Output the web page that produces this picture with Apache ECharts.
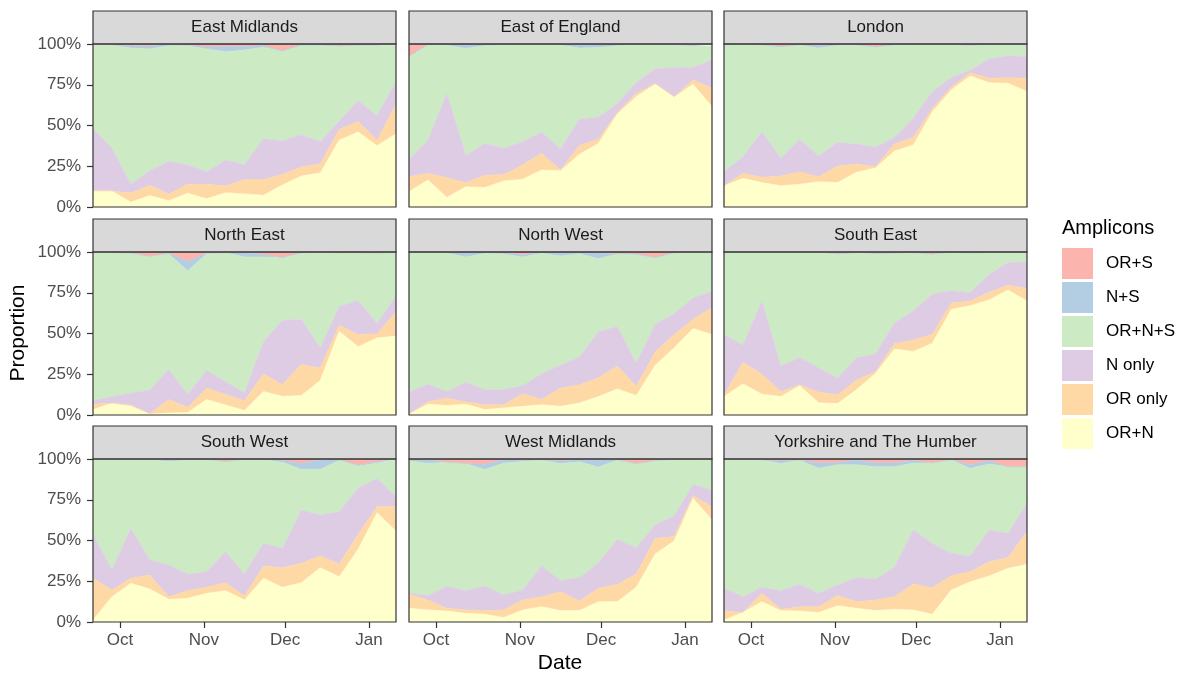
<!DOCTYPE html>
<html>
<head>
<meta charset="utf-8">
<script src="https://cdn.jsdelivr.net/npm/echarts@6/dist/echarts.min.js"></script>
<style>
html,body{margin:0;padding:0;background:#fff;}
#chart{width:1200px;height:686px;}
</style>
</head>
<body>
<div id="chart"></div>
<script>
// Weekly sample dates
const dates = ['2020-09-21','2020-09-28','2020-10-05','2020-10-12','2020-10-19','2020-10-26',
  '2020-11-02','2020-11-09','2020-11-16','2020-11-23','2020-11-30','2020-12-07',
  '2020-12-14','2020-12-21','2020-12-28','2021-01-04','2021-01-11'];

// Amplicon categories, bottom of stack first
const amplicons = ['OR+N','OR only','N only','OR+N+S','N+S','OR+S'];
const legendOrder = ['OR+S','N+S','OR+N+S','N only','OR only','OR+N'];
const colors = ['#FFFFCC','#FED9A6','#DECBE4','#CCEBC5','#B3CDE3','#FBB4AE'];

const regions = ['East Midlands','East of England','London','North East','North West',
  'South East','South West','West Midlands','Yorkshire and The Humber'];

const yTicks = [0, 0.25, 0.5, 0.75, 1];

// Cumulative percentages (top edge of OR+N, OR only, N only, OR+N+S, N+S); OR+S fills to 100%
const eastMidlands = {
  orN:    [9.8,9.8,2.9,7,3.9,8.4,5,8.8,8,7.2,13.5,19,20.9,41,46,37.6,45],
  orOnly: [9.8,9.8,8.6,13.3,8,14,14,13,16.8,16.8,20,24.7,26.4,47.6,52.4,41,63],
  nOnly:  [48,36,14,22.3,28,25.8,21.7,28.8,26,42,40.5,44.4,40,52.8,65.4,56,77],
  orNS:   [99.3,99.3,97.5,97,99,99,97,95.3,96.3,98,95.5,99,99,98.6,99,99,99.2],
  nS:     [99.7,99.6,99,98.8,100,99.4,98.2,98.5,98.5,99,95.7,99.5,100,98.8,99.6,99.6,100]
};
const eastOfEngland = {
  orN:    [9.4,16.6,5.9,12.5,11.9,16,17,22.7,22.3,32.3,39,57,67.7,75.3,67.3,75.3,61.6],
  orOnly: [18.6,20.7,18,15,19.4,20,25.8,33,22.7,37.8,41.5,57.9,69.7,75.7,67.7,78,72.8],
  nOnly:  [29.2,41,69.7,31.5,39,36,40,46,35.6,53.8,55,63.6,76.3,85,85.5,85.7,90.2],
  orNS:   [92,99.4,99.3,97.3,99,99.2,99.4,99.4,99.4,97.5,97.8,99,99.4,99.4,99.3,98.7,98.8],
  nS:     [92.5,99.8,99.8,99.6,100,99.8,99.8,100,100,99.7,99.9,100,100,99.8,99.8,99.6,99.7]
};
const london = {
  orN:    [13,17.6,15,13,14,15.5,15,21.3,24,34.4,38,58.5,71.8,80.4,76.3,75.9,70.8],
  orOnly: [13,20.7,18.2,19,21.5,18.6,25.2,26.4,24.7,38.7,42.7,60.5,73.4,82.4,79,79.3,79],
  nOnly:  [21.7,30.9,46.2,29.9,41.5,31.3,39.7,38.6,36.6,42.7,54.4,70.8,79.5,84,90.8,92.8,92.2],
  orNS:   [99.4,99.4,99.3,98,99.3,97.5,99.3,99.3,97.8,99.2,99.4,99.5,99.6,99,99.5,99.5,99],
  nS:     [99.6,99.7,99.6,98.4,99.7,99.3,99.6,99.6,98.2,99.8,99.8,99.7,100,99.3,100,99.9,99.3]
};
const northEast = {
  orN:    [3.3,7.2,5.8,0.6,1.2,1.6,9.5,6.2,2.7,14.4,11.5,11.9,21.2,51.4,41.8,47.3,48.4],
  orOnly: [6.6,7.2,5.8,0.8,9.5,4.7,16.5,12.6,8.8,25.3,18.7,31,28.8,55,49.4,49.8,63.4],
  nOnly:  [8.8,11.3,13.4,15.4,28,12.6,27.4,20.6,13.6,44.9,58.2,58.6,41.2,66.5,70.2,56.2,73],
  orNS:   [99.5,99.5,99.3,97.3,99,88.5,99,99.5,97,97,96.5,99.3,99.3,99.4,99.4,99.4,99.3],
  nS:     [99.7,99.7,99.3,97.3,99.3,94.2,99.3,99.5,99.7,98.5,96.7,99.5,99.7,99.6,99.6,99.4,99.6]
};
const northWest = {
  orN:    [0.6,6.6,5.8,6.6,3.3,4.3,5.3,6.3,5.3,7.4,11.3,16,11.9,30.5,41.2,53,49.4],
  orOnly: [0.6,8.2,10.3,8.2,6.3,6.3,13,9.5,16.5,18.5,22.8,30,17.7,38.7,49.4,58.8,65.8],
  nOnly:  [14.2,18.9,14.4,20,15.6,15.6,18.1,25.3,30.5,35.6,51,54.3,31.7,55.6,62.2,71.8,75.9],
  orNS:   [99.6,99.6,99.4,96.9,99.1,98.8,96.9,99.3,97.5,99,95.9,98.7,98.3,96.5,99.3,99.5,99.5],
  nS:     [99.8,100,100,99.7,99.8,99.7,98.3,99.9,99.8,99.9,99.6,99,98.8,96.5,99.6,100,99.8]
};
const southEast = {
  orN:    [11.3,19.1,12.8,11.3,17.9,7.5,7,15.6,25.5,40.5,39,44,64.8,67.1,70.6,76.7,69.9],
  orOnly: [12.1,32.3,25.2,14.2,18.5,14,12.4,21.4,26.5,43.8,46,49.6,68.7,70,75.3,79.6,77.6],
  nOnly:  [49.4,42.8,70,30,35.2,29,22.6,35.3,37.4,56.5,64,74.3,76.3,75,86.2,93.5,94],
  orNS:   [99.8,99.8,99.8,99.8,99.8,99.7,98.3,99.5,98.8,99,99.5,98.5,99.5,99.3,99.5,99.6,99.7],
  nS:     [100,100,100,100,100,100,99,99.8,99.2,99.4,99.7,98.7,99.8,99.5,99.7,99.8,99.9]
};
const southWest = {
  orN:    [1.2,15.5,23.7,20.2,13.9,14.5,17.6,19.2,13.5,26.8,21.3,24.1,33.3,27.8,44.6,67,55.8],
  orOnly: [26.8,19.6,26.8,28.8,15.5,19.2,21.3,24.1,16,34.4,33.3,36,40.5,35.6,53.8,70.8,70.8],
  nOnly:  [53.8,31.9,57.5,38,35,29.4,30.9,43.1,29.4,48.3,45.2,68.7,65.6,67.7,82,88.1,76.9],
  orNS:   [99.5,99.5,99.5,99.5,98.5,99.3,99.5,98.4,99.5,99.5,98,93.7,93.7,99.3,95.7,97.5,99.5],
  nS:     [100,100,100,100,99.7,100,99.8,98.4,99.8,100,99.3,97.3,99.5,99.5,96.3,98.4,100]
};
const westMidlands = {
  orN:    [8.4,7.4,6.7,5.3,4.7,2.7,7.4,9.4,7,7,12.5,12.5,21.3,41.7,49.7,75.9,62.6],
  orOnly: [17,13.5,8.4,7.4,7,7.4,13.5,15.5,18.6,12.9,20.7,23.1,29.4,51.3,52.4,77.5,70.8],
  nOnly:  [17.6,16.2,22.1,19.2,22.1,16.6,19.6,34.4,25.4,27.2,36.4,50.7,45.6,59.5,65,84.5,80.6],
  orNS:   [99,97.3,98,97.3,93.5,97.5,98.5,99.3,97.2,98.3,95.1,99.3,97.1,99,99.7,99.7,99.7],
  nS:     [99.5,99.8,98,97.3,96.8,99.5,99.3,99.6,98.8,99.7,99.7,99.5,97.1,99,99.8,100,100]
};
const yorkshire = {
  orN:    [1.2,5.9,12.5,7,6.7,5.9,10,8.4,7,7.8,7.4,4.7,19.6,24.7,28.2,32.9,35.4],
  orOnly: [6.7,5.9,17.6,7.8,9.4,9.4,16.2,12.5,13.5,15.5,23.3,21,28.4,30.9,37,39.5,55.4],
  nOnly:  [20.7,15.5,21.3,19.2,23.1,17.6,22.7,27.2,26.4,33.5,56.4,48.3,42.1,40.5,56.4,54.4,72.8],
  orNS:   [99.5,99.5,99.3,97.3,99.3,94.3,96.5,96.5,95.3,95.3,97.5,97.5,99.5,94.3,97,95.2,95.2],
  nS:     [99.8,99.8,99.6,98.8,99.6,97.5,97.8,99.5,97.6,97.6,99.1,97.5,99.6,96.5,99,95.2,95.2]
};
const regionData = [eastMidlands, eastOfEngland, london, northEast, northWest,
  southEast, southWest, westMidlands, yorkshire];

// ---- layout ----
const FONT = 'Liberation Sans, Arial, sans-serif';
const colLeft = [93, 409, 724];
const rowTop = [44, 252, 459];
const panelW = 303, panelH = 163, stripH = 33;

function shares(d) {
  const cums = [d.orN, d.orOnly, d.nOnly, d.orNS, d.nS];
  const out = [];
  for (let k = 0; k < 6; k++) {
    out.push(dates.map((_, j) => {
      const hi = k < 5 ? cums[k][j] : 100;
      const lo = k > 0 ? cums[k - 1][j] : 0;
      return Math.max(0, hi - lo) / 100;
    }));
  }
  return out;
}

const grid = [], xAxis = [], yAxis = [], series = [], graphic = [];
regions.forEach((name, i) => {
  const col = i % 3, row = Math.floor(i / 3);
  const left = colLeft[col], top = rowTop[row];
  grid.push({ left: left, top: top, width: panelW, height: panelH, containLabel: false });
  const bottomRow = row === 2, leftCol = col === 0;
  xAxis.push({
    type: 'time', gridIndex: i, min: dates[0], max: dates[dates.length - 1],
    splitNumber: 4, minInterval: 28 * 86400000,
    axisLine: { show: false },
    axisTick: { show: bottomRow, length: 6, lineStyle: { color: '#333', width: 1.2 } },
    axisLabel: { show: bottomRow, formatter: '{MMM}', fontSize: 17, color: '#4D4D4D', margin: 10, fontFamily: FONT, showMinLabel: false, showMaxLabel: false },
    splitLine: { show: false }
  });
  yAxis.push({
    type: 'value', gridIndex: i, min: 0, max: 1, interval: 0.25,
    axisLine: { show: false },
    axisTick: { show: leftCol, length: 6, lineStyle: { color: '#333', width: 1.2 } },
    axisLabel: { show: leftCol, fontSize: 17, color: '#4D4D4D', margin: 12, fontFamily: FONT,
      formatter: v => Math.round(v * 100) + '%' },
    splitLine: { show: false }
  });
  const sh = shares(regionData[i]);
  amplicons.forEach((a, k) => {
    series.push({
      name: a, type: 'line', stack: 'r' + i, xAxisIndex: i, yAxisIndex: i,
      symbol: 'none', showSymbol: false, smooth: false,
      lineStyle: { width: 0.6, color: colors[k] },
      itemStyle: { color: colors[k] },
      areaStyle: { color: colors[k], opacity: 1 },
      data: dates.map((d, j) => [d, sh[k][j]])
    });
  });
  // strip
  graphic.push({ type: 'rect', z: 100, shape: { x: left, y: top - stripH, width: panelW, height: stripH },
    style: { fill: '#D9D9D9', stroke: '#333333', lineWidth: 1.2 } });
  graphic.push({ type: 'text', z: 101, x: left + panelW / 2, y: top - stripH / 2,
    style: { text: name, fontSize: 17, fill: '#1A1A1A', fontFamily: FONT, textAlign: 'center', textVerticalAlign: 'middle' } });
  // panel border
  graphic.push({ type: 'rect', z: 100, shape: { x: left, y: top, width: panelW, height: panelH },
    style: { fill: 'none', stroke: '#333333', lineWidth: 1.2 } });
});

graphic.push({ type: 'text', z: 101, x: 18, y: 333, rotation: Math.PI / 2,
  style: { text: 'Proportion', fontSize: 21, fill: '#000', fontFamily: FONT, textAlign: 'center', textVerticalAlign: 'middle' } });
graphic.push({ type: 'text', z: 101, x: 560, y: 663,
  style: { text: 'Date', fontSize: 21, fill: '#000', fontFamily: FONT, textAlign: 'center', textVerticalAlign: 'middle' } });
graphic.push({ type: 'text', z: 101, x: 1062, y: 228,
  style: { text: 'Amplicons', fontSize: 20, fill: '#000', fontFamily: FONT, textAlign: 'left', textVerticalAlign: 'middle' } });

const option = {
  animation: false,
  backgroundColor: '#fff',
  textStyle: { fontFamily: FONT },
  grid, xAxis, yAxis, series, graphic,
  legend: {
    data: legendOrder, orient: 'vertical', left: 1062, top: 248, padding: 0,
    itemWidth: 31, itemHeight: 31, itemGap: 3, icon: 'rect',
    textStyle: { fontSize: 17, color: '#000', fontFamily: FONT, padding: [0, 0, 0, 8] },
    selectedMode: false
  }
};
const chart = echarts.init(document.getElementById('chart'), null, { renderer: 'canvas' });
chart.setOption(option);
</script>
</body>
</html>
